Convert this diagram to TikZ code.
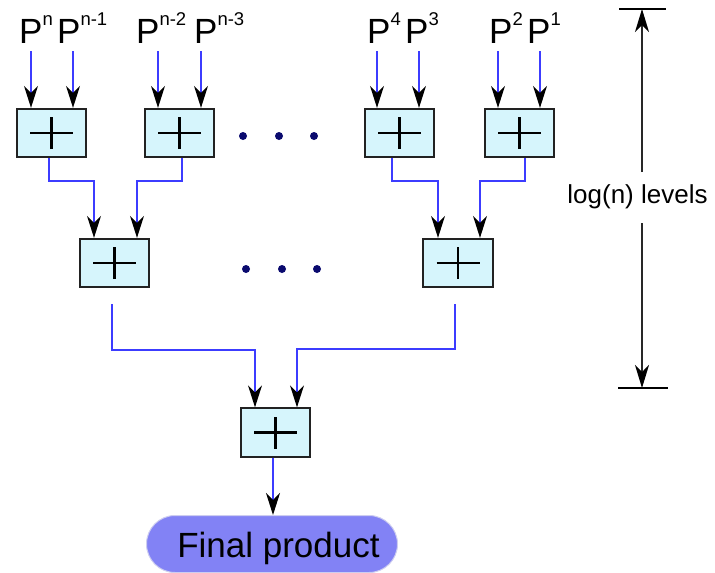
\documentclass[tikz,border=0pt]{standalone}
\usepackage{fontspec}
\setmainfont{Liberation Sans}
\usetikzlibrary{arrows.meta,calc}
\definecolor{wire}{RGB}{60,60,255}
\definecolor{boxfill}{RGB}{214,245,252}
\definecolor{boxline}{RGB}{34,34,34}
\definecolor{dotc}{RGB}{10,10,110}
\definecolor{finalfill}{RGB}{130,130,245}
\definecolor{finalline}{RGB}{205,205,240}
\definecolor{dimc}{RGB}{40,40,40}
\newcommand{\pw}[1]{{\fontsize{35}{35}\selectfont P}\raisebox{18pt}{\fontsize{18.5}{18.5}\selectfont #1}}
\begin{document}
\begin{tikzpicture}[x=1pt,y=-1pt,
  adder/.style={draw=boxline, line width=1.8pt, fill=boxfill, minimum width=69.5pt, minimum height=48.5pt, inner sep=0pt,
    path picture={\draw[line width=2.5pt,black] ($(path picture bounding box.center)+(-21.5pt,0pt)$) -- ++(43pt,0pt)
      ($(path picture bounding box.center)+(0pt,-16pt)$) -- ++(0pt,32pt);}},
  wireline/.style={draw=wire, line width=1.4pt, -{Stealth[black,length=22pt,width=14pt,inset=7pt]}},
  lab/.style={anchor=base west, inner sep=0pt},
  dotn/.style={circle, fill=dotc, inner sep=0pt, minimum size=8pt},
  dimbar/.style={draw=black, line width=2.2pt},
  dimarrow/.style={draw=dimc, line width=1.5pt, -{Stealth[black,length=23pt,width=14pt,inset=7pt]}},
  pill/.style={rounded corners=28.5pt, fill=finalfill, draw=finalline, line width=1pt, minimum width=251pt, minimum height=57pt, inner sep=0pt}
]
\useasboundingbox (0,0) rectangle (715,573);

% adders
\node[adder] (a1) at (51.5,133) {};
\node[adder] (a2) at (179.5,133) {};
\node[adder] (a3) at (399.5,133) {};
\node[adder] (a4) at (519.5,133) {};
\node[adder] (b1) at (114.5,263) {};
\node[adder] (b2) at (458,263) {};
\node[adder] (c1) at (275.5,432.5) {};

% final product
\node[pill] (f) at (272,544) {};
\node[anchor=base, inner sep=0pt, font=\fontsize{35}{35}\selectfont] (ft) at (278.5,557) {Final product};

% labels
\node[lab] (p1) at (19,43) {\pw{n}};
\node[lab] (p2) at (57,43) {\pw{n-1}};
\node[lab] (p3) at (136,43) {\pw{n-2}};
\node[lab] (p4) at (194,43) {\pw{n-3}};
\node[lab] (p5) at (367,43) {\pw{4}};
\node[lab] (p6) at (405,43) {\pw{3}};
\node[lab] (p7) at (489,43) {\pw{2}};
\node[lab] (p8) at (527,43) {\pw{1}};

% input arrows
\coordinate (i1) at (31,51);
\coordinate (i2) at (73,51);
\coordinate (i3) at (158,51);
\coordinate (i4) at (201,51);
\coordinate (i5) at (377,51);
\coordinate (i6) at (419,51);
\coordinate (i7) at (498,51);
\coordinate (i8) at (540,51);
\draw[wireline] (i1) -- (i1 |- a1.north);
\draw[wireline] (i2) -- (i2 |- a1.north);
\draw[wireline] (i3) -- (i3 |- a2.north);
\draw[wireline] (i4) -- (i4 |- a2.north);
\draw[wireline] (i5) -- (i5 |- a3.north);
\draw[wireline] (i6) -- (i6 |- a3.north);
\draw[wireline] (i7) -- (i7 |- a4.north);
\draw[wireline] (i8) -- (i8 |- a4.north);

% level 1 -> level 2
\coordinate (j1) at (94,181);
\coordinate (j2) at (137,181);
\coordinate (j3) at (438,181);
\coordinate (j4) at (480,181);
\draw[wireline] ([xshift=-2.5pt]a1.south) |- (j1) -- (j1 |- b1.north);
\draw[wireline] ([xshift=2.5pt]a2.south) |- (j2) -- (j2 |- b1.north);
\draw[wireline] ([xshift=-7.5pt]a3.south) |- (j3) -- (j3 |- b2.north);
\draw[wireline] ([xshift=5.5pt]a4.south) |- (j4) -- (j4 |- b2.north);

% level 2 -> level 3
\coordinate (s1) at (112,304);
\coordinate (s2) at (455,304);
\coordinate (k1) at (255,350);
\coordinate (k2) at (297,349);
\draw[wireline] (s1) |- (k1) -- (k1 |- c1.north);
\draw[wireline] (s2) |- (k2) -- (k2 |- c1.north);

% level 3 -> final
\draw[wireline] ([xshift=-2.5pt]c1.south) -- ([xshift=-2.5pt]c1.south |- f.north);

% dots
\node[dotn] (d1) at (243,136) {};
\node[dotn] (d2) at (279,136) {};
\node[dotn] (d3) at (314,136) {};
\node[dotn] (d4) at (246,269) {};
\node[dotn] (d5) at (282,269) {};
\node[dotn] (d6) at (317,269) {};

% dimension
\coordinate (t1) at (619,9);
\coordinate (t2) at (666,9);
\coordinate (q1) at (618,388);
\coordinate (q2) at (668,388);
\coordinate (vt) at (642,9);
\coordinate (vb) at (642,388);
\coordinate (u1) at (642,172);
\coordinate (u2) at (642,223);
\draw[dimbar] (t1) -- (t2);
\draw[dimbar] (q1) -- (q2);
\draw[dimarrow] (u1) -- (vt);
\draw[dimarrow] (u2) -- (vb);
\node[inner sep=0pt, font=\fontsize{26}{26}\selectfont] (lv) at (637.5,197) {log(n) levels};
\end{tikzpicture}
\end{document}
